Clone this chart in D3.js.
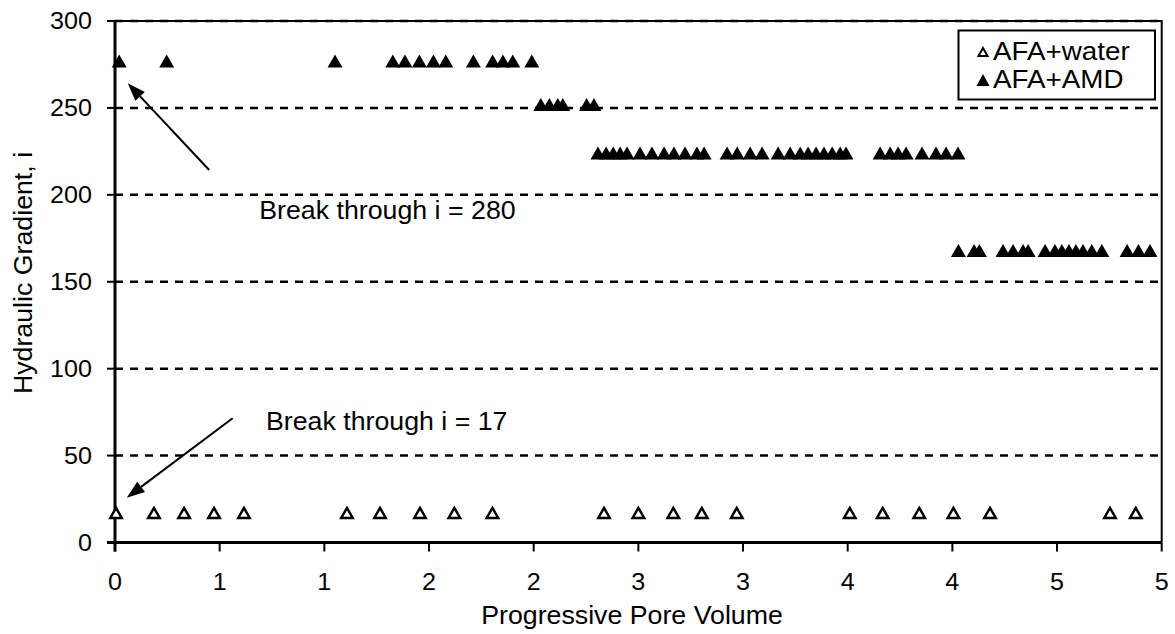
<!DOCTYPE html>
<html>
<head>
<meta charset="utf-8">
<script src="https://cdn.jsdelivr.net/npm/d3@7"></script>
<style>
  html, body { margin: 0; padding: 0; background: #fff; }
  svg { display: block; font-family: "Liberation Sans", Arial, sans-serif; }
</style>
</head>
<body>
<svg id="chart" width="1175" height="634"></svg>
<script>
// Hydraulic gradient recorded against progressive pore volume
const xTicks = [0, 0.5, 1, 1.5, 2, 2.5, 3, 3.5, 4, 4.5, 5];
const xTickLabels = ["0", "1", "1", "2", "2", "3", "3", "4", "4", "5", "5"];
const yTicks = [0, 50, 100, 150, 200, 250, 300];
const gridValues = [50, 100, 150, 200, 250, 300];

// AFA+water: constant gradient of 17
const waterX = [0.005, 0.186, 0.33, 0.473, 0.616, 1.108, 1.266, 1.457, 1.621, 1.803,
                2.336, 2.5, 2.667, 2.803, 2.97, 3.51, 3.667, 3.842, 4.005, 4.18, 4.753, 4.876];
const waterY = waterX.map(() => 17);

// AFA+AMD: stepped gradient
const amdX = [
  0.02, 0.247, 1.051, 1.327, 1.385, 1.454, 1.521, 1.58, 1.712, 1.804, 1.853, 1.9, 1.991,
  2.034, 2.075, 2.115, 2.139, 2.253, 2.288,
  2.307, 2.346, 2.38, 2.413, 2.446, 2.508, 2.565, 2.623, 2.67, 2.723, 2.78, 2.814,
  2.924, 2.972, 3.034, 3.091, 3.168, 3.225, 3.273, 3.311, 3.349, 3.387, 3.426, 3.464, 3.492,
  3.655, 3.703, 3.741, 3.779, 3.855, 3.922, 3.97, 4.027,
  4.029, 4.104, 4.129, 4.242, 4.29, 4.338, 4.362, 4.443, 4.49, 4.523, 4.557, 4.59, 4.624,
  4.666, 4.714, 4.835, 4.889, 4.944
];
const amdY = [
  277, 277, 277, 277, 277, 277, 277, 277, 277, 277, 277, 277, 277,
  252, 252, 252, 252, 252, 252,
  224, 224, 224, 224, 224, 224, 224, 224, 224, 224, 224, 224,
  224, 224, 224, 224, 224, 224, 224, 224, 224, 224, 224, 224, 224,
  224, 224, 224, 224, 224, 224, 224, 224,
  168, 168, 168, 168, 168, 168, 168, 168, 168, 168, 168, 168, 168,
  168, 168, 168, 168, 168
];

const seriesNames = ["AFA+water", "AFA+AMD"];

const svg = d3.select("#chart");
svg.append("rect").attr("width", 1175).attr("height", 634).attr("fill", "#fff");

const plot = { left: 115, right: 1161.7, top: 21, bottom: 542.5 };
const x = d3.scaleLinear().domain([0, 5]).range([plot.left, plot.right]);
const y = d3.scaleLinear().domain([0, 300]).range([plot.bottom, plot.top]);

// slightly widened glyphs, as in the original typesetting
const STRETCH = 1.07;
function label(parent, px, py, str, size, anchor, rotate) {
  return parent.append("text")
    .attr("transform", `translate(${px},${py})${rotate ? ` rotate(${rotate})` : ""} scale(${STRETCH},1)`)
    .attr("text-anchor", anchor || "start")
    .attr("font-size", size)
    .text(str);
}

// Triangle whose bounding box is centred on the point
function triangle(w, h) {
  return {
    draw(ctx) {
      ctx.moveTo(0, -h / 2);
      ctx.lineTo(w / 2, h / 2);
      ctx.lineTo(-w / 2, h / 2);
      ctx.closePath();
    }
  };
}
const filledTri = d3.symbol().type(triangle(15, 13));
const openTri = d3.symbol().type(triangle(11.5, 10));

// plot frame (top and right)
svg.append("path")
  .attr("d", `M${plot.left},${plot.top}H${plot.right}V${plot.bottom}`)
  .attr("fill", "none").attr("stroke", "#000").attr("stroke-width", 2);

// dashed gridlines
svg.append("g").selectAll("line").data(gridValues).join("line")
  .attr("x1", plot.left).attr("x2", plot.right)
  .attr("y1", d => y(d)).attr("y2", d => y(d))
  .attr("stroke", "#000").attr("stroke-width", 2.5)
  .attr("stroke-dasharray", "8,7");

// y axis
const yAxis = svg.append("g");
yAxis.append("line").attr("x1", plot.left).attr("x2", plot.left)
  .attr("y1", plot.top).attr("y2", plot.bottom + 9)
  .attr("stroke", "#000").attr("stroke-width", 3);
yAxis.selectAll("line.tick").data(yTicks).join("line").attr("class", "tick")
  .attr("x1", plot.left - 8).attr("x2", plot.left)
  .attr("y1", d => y(d)).attr("y2", d => y(d))
  .attr("stroke", "#000").attr("stroke-width", 2);
yTicks.forEach(d => label(yAxis, 92, y(d) + 8.3, d, 23.5, "end"));

// x axis
const xAxis = svg.append("g");
xAxis.append("line").attr("x1", plot.left - 8).attr("x2", plot.right)
  .attr("y1", plot.bottom).attr("y2", plot.bottom)
  .attr("stroke", "#000").attr("stroke-width", 3);
xAxis.selectAll("line.tick").data(xTicks).join("line").attr("class", "tick")
  .attr("x1", d => x(d)).attr("x2", d => x(d))
  .attr("y1", plot.bottom).attr("y2", plot.bottom + 9)
  .attr("stroke", "#000").attr("stroke-width", 2);
xTicks.forEach((d, i) => label(xAxis, x(d), 590, xTickLabels[i], 23.5, "middle"));

// axis titles
label(svg, 632, 624, "Progressive Pore Volume", 25, "middle");
label(svg, 32, 273, "Hydraulic Gradient, i", 25, "middle", -90);

// series
const water = waterX.map((v, i) => [v, waterY[i]]);
const amd = amdX.map((v, i) => [v, amdY[i]]);

svg.append("g").selectAll("path").data(water).join("path")
  .attr("transform", d => `translate(${x(d[0])},${y(d[1])})`)
  .attr("d", openTri())
  .attr("fill", "#fff").attr("stroke", "#000").attr("stroke-width", 2.5)
  .attr("stroke-linejoin", "miter");

svg.append("g").selectAll("path").data(amd).join("path")
  .attr("transform", d => `translate(${x(d[0])},${y(d[1])})`)
  .attr("d", filledTri())
  .attr("fill", "#000");

// legend
const legend = svg.append("g");
legend.append("rect").attr("x", 958.5).attr("y", 30.5).attr("width", 196.5).attr("height", 69)
  .attr("fill", "#fff").attr("stroke", "#000").attr("stroke-width", 2);
legend.append("path").attr("transform", "translate(983,52)")
  .attr("d", d3.symbol().type(triangle(9, 8))())
  .attr("fill", "#fff").attr("stroke", "#000").attr("stroke-width", 2);
legend.append("path").attr("transform", "translate(983,80)")
  .attr("d", d3.symbol().type(triangle(13, 12))())
  .attr("fill", "#000");
seriesNames.forEach((d, i) => label(legend, 993, 60 + i * 28, d, 26));

// annotations with arrows
function arrow(x0, y0, x1, y1) {
  const px0 = x(x0), py0 = y(y0), px1 = x(x1), py1 = y(y1);
  const ang = Math.atan2(py1 - py0, px1 - px0);
  const len = 18, half = 6.5;
  const bx = px1 - len * Math.cos(ang), by = py1 - len * Math.sin(ang);
  const g = svg.append("g");
  g.append("line").attr("x1", px0).attr("y1", py0).attr("x2", bx).attr("y2", by)
    .attr("stroke", "#000").attr("stroke-width", 2);
  g.append("path")
    .attr("d", `M${px1},${py1}L${bx + half * Math.sin(ang)},${by - half * Math.cos(ang)}` +
               `L${bx - half * Math.sin(ang)},${by + half * Math.cos(ang)}Z`)
    .attr("fill", "#000");
}
arrow(0.45, 214.3, 0.061, 264.2);
arrow(0.562, 71.5, 0.056, 25.8);

label(svg, x(0.689), y(186), "Break through i = 280", 25);
label(svg, x(0.721), y(64.7), "Break through i = 17", 25);
</script>
</body>
</html>
